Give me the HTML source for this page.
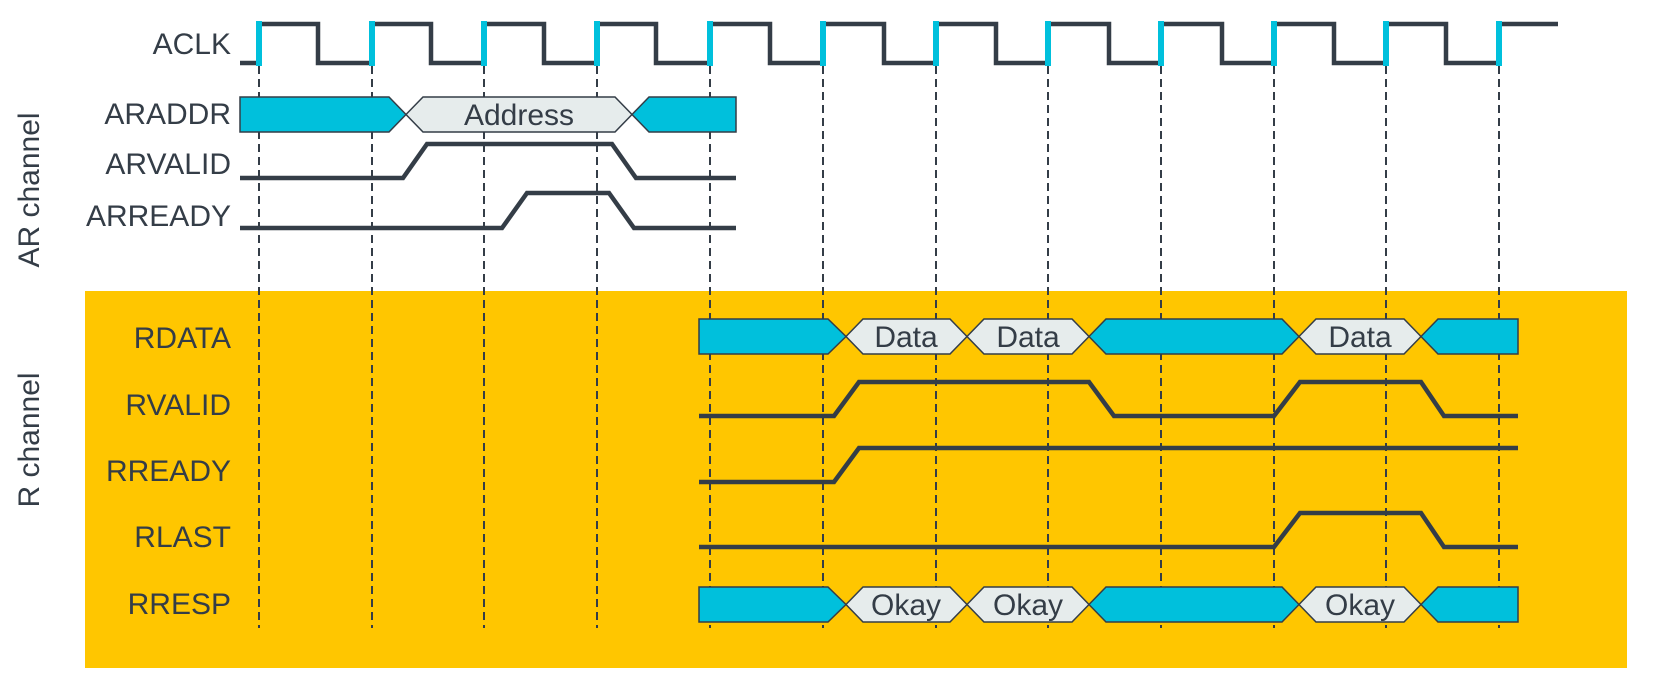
<!DOCTYPE html>
<html><head><meta charset="utf-8"><style>
html,body{margin:0;padding:0;background:#fff;}
svg{display:block;}
text{font-family:"Liberation Sans",sans-serif;fill:#343d47;}
</style></head><body>
<svg width="1660" height="680" viewBox="0 0 1660 680" xmlns="http://www.w3.org/2000/svg">
<rect x="85" y="291" width="1542" height="377" fill="#FFC600"/>
<g stroke="#343d47" stroke-width="2" stroke-dasharray="8,5" fill="none">
<line x1="259" y1="66" x2="259" y2="628"/>
<line x1="372" y1="66" x2="372" y2="628"/>
<line x1="484" y1="66" x2="484" y2="628"/>
<line x1="597" y1="66" x2="597" y2="628"/>
<line x1="710" y1="66" x2="710" y2="628"/>
<line x1="823" y1="66" x2="823" y2="628"/>
<line x1="936" y1="66" x2="936" y2="628"/>
<line x1="1048" y1="66" x2="1048" y2="628"/>
<line x1="1161" y1="66" x2="1161" y2="628"/>
<line x1="1274" y1="66" x2="1274" y2="628"/>
<line x1="1386" y1="66" x2="1386" y2="628"/>
<line x1="1499" y1="66" x2="1499" y2="628"/>
</g>
<path d="M240,63 H259 V24 H318 V63 H372 V24 H431 V63 H484 V24 H544 V63 H597 V24 H656 V63 H710 V24 H770 V63 H823 V24 H884 V63 H936 V24 H996 V63 H1048 V24 H1109 V63 H1161 V24 H1222 V63 H1274 V24 H1334 V63 H1386 V24 H1446 V63 H1499 V24 H1558" stroke="#343d47" stroke-width="4.5" fill="none"/>
<g fill="#00C0DC">
<rect x="256" y="21" width="6" height="45"/>
<rect x="369" y="21" width="6" height="45"/>
<rect x="481" y="21" width="6" height="45"/>
<rect x="594" y="21" width="6" height="45"/>
<rect x="707" y="21" width="6" height="45"/>
<rect x="820" y="21" width="6" height="45"/>
<rect x="933" y="21" width="6" height="45"/>
<rect x="1045" y="21" width="6" height="45"/>
<rect x="1158" y="21" width="6" height="45"/>
<rect x="1271" y="21" width="6" height="45"/>
<rect x="1383" y="21" width="6" height="45"/>
<rect x="1496" y="21" width="6" height="45"/>
</g>
<g stroke="#343d47" stroke-width="1.5">
<polygon points="240,97 389,97 406,114.5 389,132 240,132" fill="#00C0DC"/>
<polygon points="406,114.5 423,97 615,97 632,114.5 615,132 423,132" fill="#E6ECEC"/>
<polygon points="632,114.5 649,97 736,97 736,132 649,132" fill="#00C0DC"/>
<polygon points="699,319 828,319 846,336.5 828,354 699,354" fill="#00C0DC"/>
<polygon points="846,336.5 863,319 950,319 967,336.5 950,354 863,354" fill="#E6ECEC"/>
<polygon points="967,336.5 984,319 1072,319 1089,336.5 1072,354 984,354" fill="#E6ECEC"/>
<polygon points="1089,336.5 1106,319 1282,319 1299,336.5 1282,354 1106,354" fill="#00C0DC"/>
<polygon points="1299,336.5 1316,319 1404,319 1421,336.5 1404,354 1316,354" fill="#E6ECEC"/>
<polygon points="1421,336.5 1438,319 1518,319 1518,354 1438,354" fill="#00C0DC"/>
<polygon points="699,587 828,587 846,604.5 828,622 699,622" fill="#00C0DC"/>
<polygon points="846,604.5 863,587 950,587 967,604.5 950,622 863,622" fill="#E6ECEC"/>
<polygon points="967,604.5 984,587 1072,587 1089,604.5 1072,622 984,622" fill="#E6ECEC"/>
<polygon points="1089,604.5 1106,587 1282,587 1299,604.5 1282,622 1106,622" fill="#00C0DC"/>
<polygon points="1299,604.5 1316,587 1404,587 1421,604.5 1404,622 1316,622" fill="#E6ECEC"/>
<polygon points="1421,604.5 1438,587 1518,587 1518,622 1438,622" fill="#00C0DC"/>
</g>
<g stroke="#343d47" stroke-width="4.5" fill="none">
<path d="M240,178 H403 L427,144 H612 L636,178 H736"/>
<path d="M240,228 H502 L527,193 H609 L634,228 H736"/>
<path d="M699,416 H834 L859,382 H1089 L1114,416 H1274 L1300,382 H1421 L1444,416 H1518"/>
<path d="M699,482 H834 L859,448 H1518"/>
<path d="M699,547 H1274 L1300,513 H1421 L1444,547 H1518"/>
</g>
<g font-size="30" text-anchor="end">
<text x="231" y="54">ACLK</text>
<text x="231" y="124">ARADDR</text>
<text x="231" y="174">ARVALID</text>
<text x="231" y="226">ARREADY</text>
<text x="231" y="348">RDATA</text>
<text x="231" y="415">RVALID</text>
<text x="231" y="481">RREADY</text>
<text x="231" y="547">RLAST</text>
<text x="231" y="614">RRESP</text>
</g>
<g font-size="30" text-anchor="middle">
<text x="519" y="125">Address</text>
<text x="906" y="347">Data</text>
<text x="1028" y="347">Data</text>
<text x="1360" y="347">Data</text>
<text x="906" y="615">Okay</text>
<text x="1028" y="615">Okay</text>
<text x="1360" y="615">Okay</text>
<text transform="translate(39,190) rotate(-90)" fill="#3a4047">AR channel</text>
<text transform="translate(39,440) rotate(-90)" fill="#3a4047">R channel</text>
</g>
</svg>
</body></html>
